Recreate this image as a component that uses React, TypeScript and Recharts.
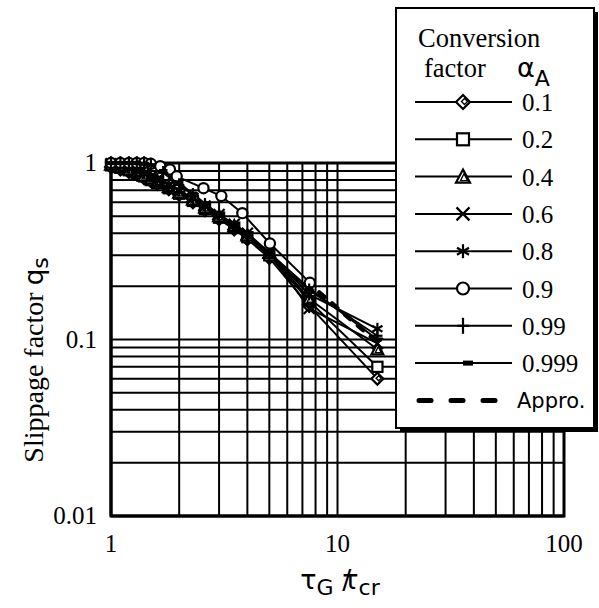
import React from "react";
import { LineChart, Line, XAxis, YAxis, CartesianGrid, ReferenceArea } from "recharts";

// ---- data ----
const X_TICKS = [1, 2, 3, 4, 5, 6, 7, 8, 9, 10, 20, 30, 40, 50, 60, 70, 80, 90, 100];
const Y_TICKS = [0.01, 0.02, 0.03, 0.04, 0.05, 0.06, 0.07, 0.08, 0.09, 0.1, 0.2, 0.3, 0.4, 0.5, 0.6, 0.7, 0.8, 0.9, 1];
const X_LABELS = [1, 10, 100];
const Y_LABELS = [0.01, 0.1, 1];

const xStd = [1, 1.1, 1.2, 1.3, 1.4, 1.5, 1.6, 1.8, 2, 2.3, 2.6, 3, 3.5, 4, 5, 7.5, 15];
const q01 = [0.95, 0.92, 0.89, 0.86, 0.82, 0.79, 0.76, 0.71, 0.66, 0.6, 0.54, 0.48, 0.42, 0.37, 0.29, 0.155, 0.06];
const q02 = [0.97, 0.94, 0.91, 0.87, 0.84, 0.8, 0.77, 0.72, 0.67, 0.61, 0.55, 0.49, 0.43, 0.38, 0.3, 0.165, 0.07];
const q04 = [0.98, 0.95, 0.92, 0.89, 0.85, 0.82, 0.79, 0.73, 0.68, 0.62, 0.56, 0.5, 0.44, 0.39, 0.31, 0.17, 0.088];
const q06 = [0.99, 0.96, 0.93, 0.9, 0.87, 0.83, 0.8, 0.74, 0.69, 0.63, 0.57, 0.51, 0.45, 0.4, 0.31, 0.15, 0.095];
const q08 = [1.0, 0.97, 0.94, 0.91, 0.88, 0.85, 0.82, 0.76, 0.7, 0.63, 0.57, 0.5, 0.44, 0.39, 0.31, 0.18, 0.115];
const x09 = [1, 1.1, 1.2, 1.3, 1.4, 1.5, 1.65, 1.82, 1.95, 2.56, 3.07, 3.8, 5.03, 7.55];
const q09 = [1, 1, 1, 1, 1, 0.99, 0.96, 0.92, 0.84, 0.72, 0.65, 0.52, 0.35, 0.21];
const x099 = [1, 1.1, 1.2, 1.3, 1.4, 1.5, 1.7, 2, 2.3, 2.6, 3, 3.5, 4, 5, 7.5, 15];
const q099 = [1, 1, 1, 1, 1, 0.98, 0.88, 0.75, 0.66, 0.58, 0.5, 0.43, 0.38, 0.3, 0.19, 0.105];
const q0999 = [1, 1, 1, 1, 0.99, 0.97, 0.9, 0.77, 0.67, 0.59, 0.51, 0.44, 0.39, 0.31, 0.195, 0.1];
const xApprox = [8.3, 14.5];
const qApprox = [0.185, 0.1];

const SERIES_LABELS = ["0.1", "0.2", "0.4", "0.6", "0.8", "0.9", "0.99", "0.999"];
const MARKERS = ["diamond", "square", "triangle", "x", "star", "circle", "plus", "dash"];
const SERIES_X = [xStd, xStd, xStd, xStd, xStd, x09, x099, x099];
const SERIES_Y = [q01, q02, q04, q06, q08, q09, q099, q0999];

const toPts = (xs: number[], ys: number[]) => xs.map((x, i) => ({ x, y: ys[i] }));

const SERIF = "'Liberation Serif', 'Times New Roman', serif";
const SANS = "'DejaVu Sans', sans-serif";

function Marker({ kind, cx, cy, s }: { kind: string; cx: number; cy: number; s: number }) {
  const k = s;
  switch (kind) {
    case "diamond":
      return (
        <g>
          <polygon points={`${cx},${cy - 7 * k} ${cx + 7 * k},${cy} ${cx},${cy + 7 * k} ${cx - 7 * k},${cy}`} fill="#fff" stroke="#000" strokeWidth={2.2} />
          <polygon points={`${cx + 1.5 * k},${cy - 3.5 * k} ${cx + 4.5 * k},${cy - 0.5 * k} ${cx + 1.5 * k},${cy + 2.5 * k} ${cx - 1.5 * k},${cy - 0.5 * k}`} fill="#fff" stroke="#000" strokeWidth={1.4} />
        </g>
      );
    case "square":
      return <rect x={cx - 6 * k} y={cy - 6 * k} width={12 * k} height={12 * k} fill="#fff" stroke="#000" strokeWidth={2.2} />;
    case "triangle":
      return (
        <g>
          <polygon points={`${cx},${cy - 7 * k} ${cx + 7 * k},${cy + 6 * k} ${cx - 7 * k},${cy + 6 * k}`} fill="#fff" stroke="#000" strokeWidth={2.2} />
          <polygon points={`${cx + 1 * k},${cy - 3 * k} ${cx + 4.5 * k},${cy + 4 * k} ${cx - 2.5 * k},${cy + 4 * k}`} fill="none" stroke="#000" strokeWidth={1.3} />
        </g>
      );
    case "x":
      return (
        <g stroke="#000" strokeWidth={2.2}>
          <line x1={cx - 6.5 * k} y1={cy - 6.5 * k} x2={cx + 6.5 * k} y2={cy + 6.5 * k} />
          <line x1={cx - 6.5 * k} y1={cy + 6.5 * k} x2={cx + 6.5 * k} y2={cy - 6.5 * k} />
        </g>
      );
    case "star":
      return (
        <g stroke="#000" strokeWidth={2.2}>
          <line x1={cx} y1={cy - 7 * k} x2={cx} y2={cy + 7 * k} />
          <line x1={cx - 6 * k} y1={cy - 3.5 * k} x2={cx + 6 * k} y2={cy + 3.5 * k} />
          <line x1={cx - 6 * k} y1={cy + 3.5 * k} x2={cx + 6 * k} y2={cy - 3.5 * k} />
        </g>
      );
    case "circle":
      return <circle cx={cx} cy={cy} r={6 * k} fill="#fff" stroke="#000" strokeWidth={2.2} />;
    case "plus":
      return (
        <g stroke="#000" strokeWidth={2.2}>
          <line x1={cx} y1={cy - 8 * k} x2={cx} y2={cy + 8 * k} />
          <line x1={cx - 6 * k} y1={cy} x2={cx + 6 * k} y2={cy} />
        </g>
      );
    case "dash":
      return <rect x={cx - 5 * k} y={cy - 2.5 * k} width={10 * k} height={5 * k} fill="#000" />;
    default:
      return null;
  }
}

const makeDot = (kind: string) => (props: any) => {
  const { cx, cy, index } = props;
  if (cx == null || cy == null) return <g key={index} />;
  return <Marker key={`${kind}-${index}`} kind={kind} cx={cx} cy={cy} s={0.85} />;
};

const YTick = (props: any) => {
  const { y, payload } = props;
  if (!Y_LABELS.includes(payload.value)) return <g />;
  return (
    <text x={97} y={y + 8} textAnchor="end" fontFamily={SERIF} fontSize={25} fill="#000">
      {String(payload.value)}
    </text>
  );
};

const XTick = (props: any) => {
  const { x, payload } = props;
  if (!X_LABELS.includes(payload.value)) return <g />;
  return (
    <text x={x} y={552} textAnchor="middle" fontFamily={SERIF} fontSize={25} fill="#000">
      {String(payload.value)}
    </text>
  );
};

function LegendBox() {
  const rowY0 = 102;
  const step = 37.3;
  return (
    <svg width={599} height={608} style={{ position: "absolute", left: 0, top: 0, pointerEvents: "none" }}>
      {/* axis titles */}
      <text x={340} y={589} textAnchor="middle" fontFamily={SANS} fontSize={27} fill="#000">
        <tspan>τ</tspan>
        <tspan fontSize={22} dy={6}>G</tspan>
        <tspan dy={-6}>{" /"}</tspan>
        <tspan dx={-9}>τ</tspan>
        <tspan fontSize={22} dy={6}>cr</tspan>
      </text>
      <g transform="translate(43,360) rotate(-90)">
        <text x={0} y={0} textAnchor="middle" fontFamily={SERIF} fontSize={28} fill="#000">
          <tspan>Slippage factor </tspan>
          <tspan fontFamily={SANS} fontSize={26}>q</tspan>
          <tspan fontFamily={SANS} fontSize={22} dy={5}>s</tspan>
        </text>
      </g>
      {/* legend */}
      <rect x={400} y={12} width={198} height={420} fill="#000" />
      <rect x={396} y={8} width={198} height={420} fill="#fff" stroke="#000" strokeWidth={2} />
      <text x={418} y={47} fontFamily={SERIF} fontSize={26.5} fill="#000">Conversion</text>
      <text x={424} y={77} fontFamily={SERIF} fontSize={26.5} fill="#000">factor</text>
      <text x={517} y={77} fontFamily={SANS} fontSize={27} fill="#000">
        α<tspan fontSize={22} dy={9}>A</tspan>
      </text>
      {SERIES_LABELS.map((lab, i) => {
        const cy = rowY0 + i * step;
        return (
          <g key={lab}>
            <line x1={415} y1={cy} x2={512} y2={cy} stroke="#000" strokeWidth={2} />
            <Marker kind={MARKERS[i]} cx={i === 7 ? 468 : 463} cy={cy} s={1} />
            <text x={522} y={cy + 9} fontFamily={SERIF} fontSize={25} fill="#000">{lab}</text>
          </g>
        );
      })}
      <line x1={419} y1={rowY0 + 8 * step} x2={500} y2={rowY0 + 8 * step} stroke="#000" strokeWidth={5} strokeDasharray="12 20" strokeLinecap="round" />
      <text x={517} y={rowY0 + 8 * step + 8} fontFamily={SANS} fontSize={21} fill="#000">Appro.</text>
    </svg>
  );
}

export default function App() {
  return (
    <div style={{ position: "absolute", left: 0, top: 0, width: 599, height: 608, background: "#fff" }}>
      <LineChart width={599} height={608} margin={{ top: 163, right: 35, bottom: 0, left: 0 }}>
        <CartesianGrid stroke="#000" strokeWidth={2} fill="#fff" />
        <XAxis
          dataKey="x"
          type="number"
          scale="log"
          domain={[1, 100]}
          ticks={X_TICKS}
          interval={0}
          height={92}
          tick={<XTick />}
          tickLine={false}
          axisLine={{ stroke: "#000", strokeWidth: 3 }}
          allowDuplicatedCategory={false}
        />
        <YAxis
          type="number"
          scale="log"
          domain={[0.01, 1]}
          ticks={Y_TICKS}
          interval={0}
          width={111}
          tick={<YTick />}
          tickLine={false}
          axisLine={{ stroke: "#000", strokeWidth: 3 }}
        />
        <ReferenceArea x1={1} x2={100} y1={0.01} y2={1} fill="none" stroke="#000" strokeWidth={3} ifOverflow="visible" />
        {SERIES_Y.map((ys, i) => (
          <Line
            key={SERIES_LABELS[i]}
            data={toPts(SERIES_X[i], ys)}
            dataKey="y"
            type="linear"
            stroke="#000"
            strokeWidth={2}
            dot={makeDot(MARKERS[i])}
            activeDot={false}
            isAnimationActive={false}
          />
        ))}
        <Line
          data={toPts(xApprox, qApprox)}
          dataKey="y"
          type="linear"
          stroke="#000"
          strokeWidth={4.5}
          strokeDasharray="7 10"
          strokeLinecap="round"
          dot={false}
          activeDot={false}
          isAnimationActive={false}
        />
      </LineChart>
      <LegendBox />
    </div>
  );
}
